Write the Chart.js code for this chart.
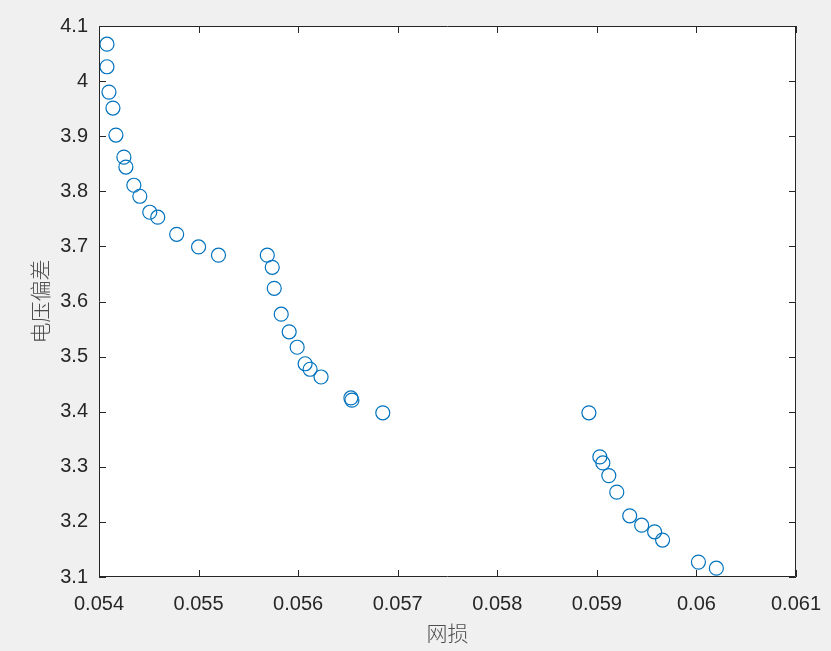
<!DOCTYPE html>
<html>
<head>
<meta charset="utf-8">
<script src="https://cdn.jsdelivr.net/npm/chart.js@4"></script>
<style>
  body { margin: 0; background: #f0f0f0; }
  #wrap { width: 831px; height: 651px; }
</style>
</head>
<body>
<div id="wrap"><canvas id="myChart" width="831" height="651"></canvas></div>
<script>
// 网损 (x) vs 电压偏差 (y)
const lossValues = [
  0.05408, 0.05408, 0.05410, 0.05414, 0.05417, 0.05425, 0.05427, 0.05435, 0.05441, 0.05451,
  0.05459, 0.05478, 0.05500, 0.05520, 0.05569, 0.05574, 0.05576, 0.05583, 0.05591, 0.05599,
  0.05607, 0.05612, 0.05623, 0.05653, 0.05654, 0.05685, 0.05892, 0.05903, 0.05906, 0.05912,
  0.05920, 0.05933, 0.05945, 0.05958, 0.05966, 0.06002, 0.06020
];
const voltValues = [
  4.067, 4.026, 3.980, 3.951, 3.902, 3.862, 3.844, 3.811, 3.791, 3.762,
  3.753, 3.722, 3.699, 3.684, 3.684, 3.662, 3.624, 3.577, 3.545, 3.517,
  3.487, 3.477, 3.463, 3.425, 3.421, 3.398, 3.398, 3.318, 3.307, 3.284,
  3.254, 3.211, 3.194, 3.182, 3.167, 3.127, 3.116
];
const xRange = [0.054, 0.061];
const yRange = [3.1, 4.1];

const axisColor = '#262626';
const tickFont = { family: 'Liberation Sans, Arial, sans-serif', size: 20 };
const titleFont = { family: 'Noto Sans CJK SC, sans-serif', size: 21, weight: 300 };

const points = lossValues.map((x, i) => ({ x: x, y: voltValues[i] }));

function fmt(v) {
  return Number(v.toFixed(3)).toString();
}

// white plot area, box and inward ticks like MATLAB
const boxPlugin = {
  id: 'box',
  beforeDraw(chart) {
    const c = chart.ctx;
    const a = chart.chartArea;
    c.save();
    c.fillStyle = '#f0f0f0';
    c.fillRect(0, 0, chart.width, chart.height);
    c.fillStyle = '#ffffff';
    c.fillRect(a.left, a.top, a.right - a.left, a.bottom - a.top);
    c.restore();
  },
  afterDatasetsDraw(chart) {
    const c = chart.ctx;
    const a = chart.chartArea;
    const len = 7;
    c.save();
    c.strokeStyle = axisColor;
    c.lineWidth = 1;
    c.beginPath();
    c.rect(a.left + 0.5, a.top + 0.5, a.right - a.left - 1, a.bottom - a.top - 1);
    for (const t of chart.scales.x.ticks) {
      const px = Math.round(chart.scales.x.getPixelForValue(t.value)) + 0.5;
      c.moveTo(px, a.bottom); c.lineTo(px, a.bottom - len);
      c.moveTo(px, a.top); c.lineTo(px, a.top + len);
    }
    for (const t of chart.scales.y.ticks) {
      const py = Math.round(chart.scales.y.getPixelForValue(t.value)) + 0.5;
      c.moveTo(a.left, py); c.lineTo(a.left + len, py);
      c.moveTo(a.right, py); c.lineTo(a.right - len, py);
    }
    c.stroke();
    c.restore();
  }
};

new Chart(document.getElementById('myChart'), {
  type: 'scatter',
  data: {
    datasets: [{
      data: points,
      pointRadius: 7,
      pointHoverRadius: 7,
      pointBorderWidth: 1.2,
      pointBorderColor: '#0072BD',
      pointBackgroundColor: 'rgba(0,0,0,0)',
      showLine: false
    }]
  },
  options: {
    responsive: false,
    animation: false,
    layout: { padding: { top: 26, right: 35, left: 0, bottom: 0 } },
    plugins: { legend: { display: false }, tooltip: { enabled: false } },
    scales: {
      x: {
        type: 'linear',
        min: xRange[0],
        max: xRange[1],
        afterFit: s => { s.height = 74; s.paddingLeft = 0; s.paddingRight = 0; },
        grid: { display: false, drawTicks: false },
        border: { display: false },
        ticks: { stepSize: 0.001, padding: 15, color: axisColor, font: tickFont, maxRotation: 0,
          callback: v => fmt(v) },
        title: { display: true, text: '网损', color: '#4d4d4d', font: titleFont, padding: { top: 0, bottom: 5 } }
      },
      y: {
        type: 'linear',
        min: yRange[0],
        max: yRange[1],
        afterFit: s => { s.width = 99; s.paddingTop = 0; s.paddingBottom = 0; },
        grid: { display: false, drawTicks: false },
        border: { display: false },
        ticks: { stepSize: 0.1, padding: 11, color: axisColor, font: tickFont,
          callback: v => fmt(v) },
        title: { display: true, text: '电压偏差', color: '#4d4d4d', font: titleFont, padding: { top: 27, bottom: 0 } }
      }
    }
  },
  plugins: [boxPlugin]
});
</script>
</body>
</html>
